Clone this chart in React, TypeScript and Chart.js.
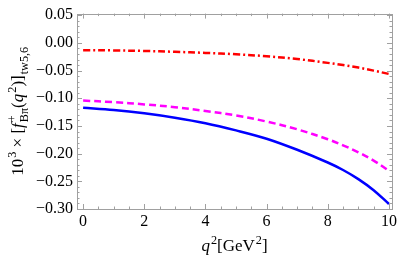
import React, { useEffect, useRef } from "react";
import { Chart, registerables } from "chart.js";
Chart.register(...registerables);

const q2 = [0, 1, 2, 3, 4, 5, 6, 7, 8, 8.5, 9, 9.5, 10];
const blueSolid = [-0.117, -0.121, -0.127, -0.135, -0.145, -0.158, -0.173, -0.193, -0.216, -0.2295, -0.246, -0.266, -0.291];
const magentaDashed = [-0.104, -0.107, -0.111, -0.116, -0.123, -0.131, -0.142, -0.156, -0.174, -0.185, -0.1975, -0.2125, -0.231];
const redDotDash = [-0.013, -0.0135, -0.0145, -0.016, -0.018, -0.0205, -0.024, -0.029, -0.036, -0.040, -0.0445, -0.050, -0.056];
const xTickValues = [0, 2, 4, 6, 8, 10];
const yTickValues = [0.05, 0, -0.05, -0.1, -0.15, -0.2, -0.25, -0.3];

const FONT = "'Liberation Serif', 'Times New Roman', serif";
const FS = 16;
const TFS = 17;

type Seg = { t?: string; it?: boolean; sup?: string; sub?: string };

function segFont(it: boolean | undefined, size: number) {
  return `${it ? "italic " : ""}${size}px ${FONT}`;
}

function measure(ctx: CanvasRenderingContext2D, segs: Seg[], base: number) {
  let w = 0;
  for (const s of segs) {
    if (s.sup !== undefined || s.sub !== undefined) {
      ctx.font = segFont(false, base * 0.72);
      w += Math.max(ctx.measureText(s.sup || "").width, ctx.measureText(s.sub || "").width) + 1;
    } else {
      ctx.font = segFont(s.it, base);
      w += ctx.measureText(s.t || "").width;
    }
  }
  return w;
}

function drawRich(ctx: CanvasRenderingContext2D, segs: Seg[], cx: number, y: number, base: number) {
  const w = measure(ctx, segs, base);
  let x = cx - w / 2;
  ctx.textBaseline = "alphabetic";
  ctx.textAlign = "left";
  for (const s of segs) {
    if (s.sup !== undefined || s.sub !== undefined) {
      ctx.font = segFont(false, base * 0.72);
      const a = ctx.measureText(s.sup || "").width;
      const b = ctx.measureText(s.sub || "").width;
      if (s.sup) ctx.fillText(s.sup, x + 1, y - base * 0.42);
      if (s.sub) ctx.fillText(s.sub, x + 1, y + base * 0.28);
      x += Math.max(a, b) + 1;
    } else {
      ctx.font = segFont(s.it, base);
      ctx.fillText(s.t || "", x, y);
      x += ctx.measureText(s.t || "").width;
    }
  }
}

const fmt = (v: number) => {
  const s = Math.abs(v).toFixed(2);
  return v < -1e-9 ? "\u2212" + s : s;
};

const framePlugin = {
  id: "framePlugin",
  afterDraw(chart: any) {
    const { ctx, chartArea: a, scales } = chart;
    const xs = scales.x;
    const ys = scales.y;
    ctx.save();
    ctx.strokeStyle = "#a0a0a0";
    ctx.lineWidth = 1;
    ctx.strokeRect(Math.round(a.left) + 0.5, Math.round(a.top) + 0.5, Math.round(a.right - a.left), Math.round(a.bottom - a.top));
    ctx.beginPath();
    for (let i = 0; i <= 20; i++) {
      const v = i * 0.5;
      const px = Math.round(xs.getPixelForValue(v)) + 0.5;
      const len = i % 4 === 0 ? 5 : 2.5;
      ctx.moveTo(px, a.bottom);
      ctx.lineTo(px, a.bottom - len);
      ctx.moveTo(px, a.top);
      ctx.lineTo(px, a.top + len);
    }
    for (let i = -30; i <= 5; i++) {
      const v = i * 0.01;
      const py = Math.round(ys.getPixelForValue(v)) + 0.5;
      const len = i % 5 === 0 ? 5 : 2.5;
      ctx.moveTo(a.left, py);
      ctx.lineTo(a.left + len, py);
      ctx.moveTo(a.right, py);
      ctx.lineTo(a.right - len, py);
    }
    ctx.stroke();

    ctx.fillStyle = "#000";
    drawRich(
      ctx,
      [{ t: "q", it: true }, { sup: "2" }, { t: "[GeV" }, { sup: "2" }, { t: "]" }],
      (a.left + a.right) / 2,
      251,
      TFS
    );
    ctx.translate(23, (a.top + a.bottom) / 2);
    ctx.rotate(-Math.PI / 2);
    drawRich(
      ctx,
      [
        { t: "10" },
        { sup: "3" },
        { t: " \u00d7 [" },
        { t: "f", it: true },
        { sup: "+", sub: "B\u03c0" },
        { t: "(" },
        { t: "q", it: true },
        { sup: "2" },
        { t: ")]" },
        { sub: "tw5,6" },
      ],
      0,
      0,
      TFS
    );
    ctx.restore();
  },
};

export default function App() {
  const ref = useRef<HTMLCanvasElement>(null);
  useEffect(() => {
    document.body.style.margin = "0";
    const mk = (vals: number[]) => q2.map((x, i) => ({ x, y: vals[i] }));
    const common = { pointRadius: 0, borderWidth: 2.5, tension: 0.35, fill: false };
    const chart = new Chart(ref.current!, {
      type: "line",
      data: {
        datasets: [
          { ...common, data: mk(blueSolid), borderColor: "#0000ff" },
          { ...common, data: mk(magentaDashed), borderColor: "#ff00ff", borderDash: [7, 4] },
          { ...common, data: mk(redDotDash), borderColor: "#ff0000", borderDash: [7, 3, 2, 3] },
        ],
      },
      options: {
        responsive: false,
        animation: false,
        layout: { padding: { top: 10, right: 7, left: 0, bottom: 0 } },
        plugins: { legend: { display: false }, tooltip: { enabled: false } },
        scales: {
          x: {
            type: "linear",
            min: -0.2,
            max: 10.1,
            grid: { display: false, drawTicks: false },
            border: { display: false },
            afterBuildTicks: (s: any) => { s.ticks = xTickValues.map((v) => ({ value: v })); },
            afterFit: (s: any) => { s.height = 52; },
            ticks: { padding: 3, color: "#000", font: { family: FONT, size: FS }, callback: (v: any) => String(v) },
          },
          y: {
            type: "linear",
            min: -0.3,
            max: 0.053,
            grid: { display: false, drawTicks: false },
            border: { display: false },
            afterBuildTicks: (s: any) => { s.ticks = yTickValues.map((v) => ({ value: v })); },
            afterFit: (s: any) => { s.width = 77; },
            ticks: { padding: 4, color: "#000", font: { family: FONT, size: FS }, callback: (v: any) => fmt(Number(v)) },
          },
        },
      },
      plugins: [framePlugin],
    } as any);
    return () => chart.destroy();
  }, []);
  return <canvas ref={ref} width={400} height={261} style={{ display: "block" }} />;
}
